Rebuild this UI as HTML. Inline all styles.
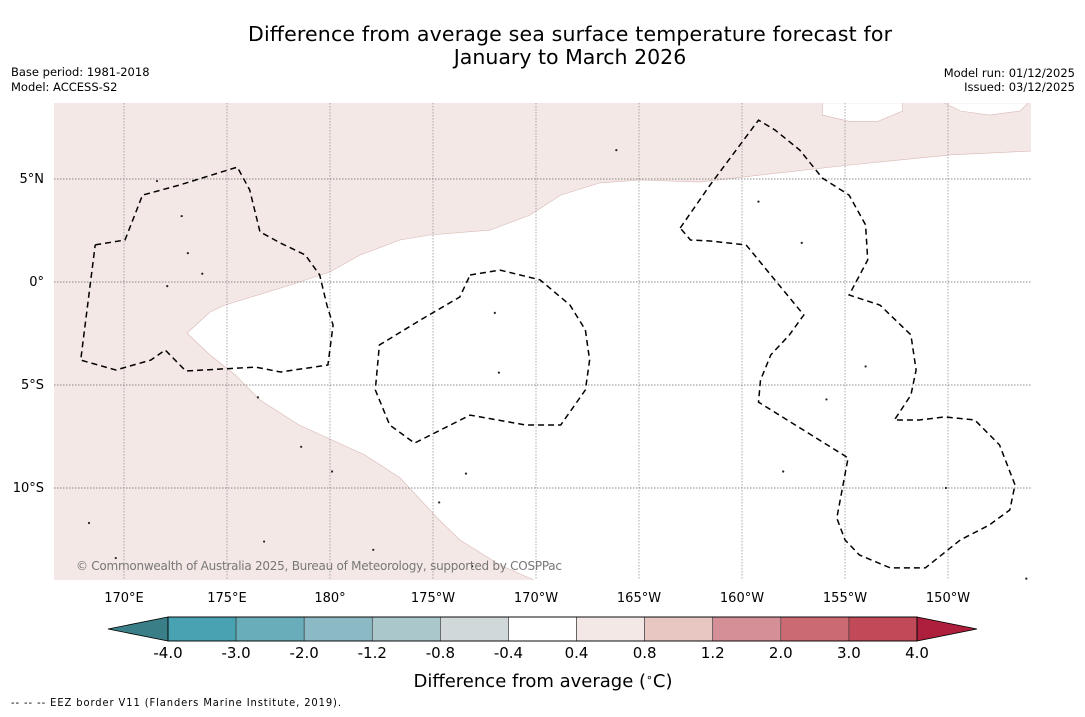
<!DOCTYPE html>
<html><head><meta charset="utf-8"><style>
body{margin:0;background:#fff;width:1085px;height:713px;overflow:hidden;font-family:"DejaVu Sans","Liberation Sans",sans-serif;}
</style></head><body>
<svg id="s" width="1085" height="713" xmlns="http://www.w3.org/2000/svg">
<text x="570" y="41" font-size="20.5" text-anchor="middle" textLength="644">Difference from average sea surface temperature forecast for</text>
<text x="570" y="64" font-size="20.5" text-anchor="middle">January to March 2026</text>
<text x="11" y="76" font-size="11.5">Base period: 1981-2018</text>
<text x="11" y="91" font-size="11.5">Model: ACCESS-S2</text>
<text x="1075" y="77" font-size="11.5" text-anchor="end">Model run: 01/12/2025</text>
<text x="1075" y="91" font-size="11.5" text-anchor="end">Issued: 03/12/2025</text>
<defs><clipPath id="mc"><rect x="54" y="103" width="977" height="477"/></clipPath></defs>
<g id="map" clip-path="url(#mc)">
<rect x="54" y="103" width="977" height="477" fill="#f4e8e6"/>
</g>
<g id="axes"></g>
<g id="cbar"></g>
<text x="543" y="687" font-size="18" text-anchor="middle">Difference from average (<tspan font-size="11" dy="-6">∘</tspan><tspan dy="6">C)</tspan></text>
<text x="11" y="706" font-size="11" textLength="330" font-family="DejaVu Sans Condensed,Liberation Sans Narrow,sans-serif">--  --  -- EEZ border V11 (Flanders Marine Institute, 2019).</text>
</svg>
<script>
const lonTicks=[170,175,180,185,190,195,200,205,210];
const lonTickLabels=["170°E","175°E","180°","175°W","170°W","165°W","160°W","155°W","150°W"];
const latTicks=[5,0,-5,-10];
const latTickLabels=["5°N","0°","5°S","10°S"];
const whiteRegion=[[173.06,-2.48],[174.17,-1.46],[174.9,-1.12],[178.06,-0.15],[180,0.49],[181.46,1.31],[183.4,2.04],[184.85,2.28],[187.77,2.52],[189.7,3.25],[191.2,4.22],[193.1,4.81],[195.05,4.95],[197.96,4.85],[200.87,5.19],[205.24,5.68],[210.1,6.17],[214.1,6.36],[214.1,-14.6],[190.2,-14.6],[188.25,-13.74],[186.3,-12.52],[185.3,-11.55],[183.4,-9.51],[181.7,-8.4],[178.5,-6.94],[176.6,-5.73],[175.4,-4.51],[174.17,-3.54]];
const whiteBlob1=[[203.9,8.7],[203.9,8.1],[205.2,7.8],[206.6,7.8],[207.8,8.3],[207.8,8.7]];
const whiteBlob2=[[209.8,8.7],[210.6,8.3],[212.0,8.1],[213.5,8.3],[213.9,8.7]];
const eez1=[[168.6,1.8],[170.05,2.04],[170.9,4.22],[172.7,4.71],[175.5,5.58],[176.1,4.47],[176.6,2.43],[177.6,1.89],[178.8,1.31],[179.5,0.34],[179.85,-1.12],[180.15,-2.09],[179.9,-4.03],[177.6,-4.37],[176.4,-4.13],[173.0,-4.32],[172.0,-3.3],[171.3,-3.79],[169.6,-4.27],[167.9,-3.79],[168.6,1.8]];
const eez2=[[186.8,0.34],[188.25,0.58],[190.2,0.1],[191.65,-1.12],[192.4,-2.33],[192.6,-3.79],[192.4,-5.24],[191.2,-6.94],[189.5,-6.94],[186.8,-6.46],[184.1,-7.82],[182.9,-6.94],[182.2,-5.24],[182.4,-3.06],[184.4,-1.84],[186.3,-0.73],[186.8,0.34]];
const eez3=[[197.0,2.62],[198.45,4.71],[200.8,7.86],[201.6,7.38],[202.8,6.41],[203.9,5.05],[205.2,4.22],[206.0,2.77],[206.1,1.07],[205.2,-0.63],[206.7,-1.12],[208.2,-2.57],[208.45,-4.27],[208.2,-5.49],[207.4,-6.7],[208.6,-6.7],[209.85,-6.55],[211.3,-6.7],[212.5,-7.91],[213.25,-9.85],[213.0,-11.07],[212.0,-11.8],[210.6,-12.52],[208.9,-13.88],[207.2,-13.88],[205.7,-13.25],[205.0,-12.52],[204.6,-11.46],[205.15,-8.54],[200.8,-5.83],[200.9,-4.76],[201.4,-3.54],[202.3,-2.57],[203.0,-1.6],[201.8,-0.15],[200.2,1.8],[198.45,1.99],[197.5,2.04],[197.0,2.62]];
const islands=[[171.6,4.9],[172.1,-0.2],[173.1,1.4],[173.8,0.4],[172.8,3.2],[176.5,-5.6],[178.6,-8.0],[180.1,-9.2],[185.3,-10.7],[186.6,-9.3],[188.0,-1.5],[188.2,-4.4],[193.9,6.4],[200.8,3.9],[202.9,1.9],[204.1,-5.7],[202.0,-9.2],[209.9,-10.0],[206.0,-4.1],[168.3,-11.7],[176.8,-12.6],[186.9,-13.8],[182.1,-13.0],[169.6,-13.4],[213.8,-14.4]];
const cbBounds=["-4.0","-3.0","-2.0","-1.2","-0.8","-0.4","0.4","0.8","1.2","2.0","3.0","4.0"];
const cbColors=["#48a2b1","#6aadba","#8bbac4","#aac8cc","#d0d8d9","#ffffff","#f4e8e6","#e8c6c1","#d58f97","#cc6a74","#c04a58"];
const X=lon=>124+(lon-170)*20.6, Y=lat=>282-lat*20.6;
const NS="http://www.w3.org/2000/svg";
function mk(t,a,p){const e=document.createElementNS(NS,t);for(const k in a)e.setAttribute(k,a[k]);p.appendChild(e);return e;}
const map=document.getElementById('map'),axes=document.getElementById('axes'),cb=document.getElementById('cbar');
const pts=a=>a.map(p=>X(p[0]).toFixed(1)+','+Y(p[1]).toFixed(1)).join(' ');
let w=mk('polygon',{points:pts(whiteRegion),fill:'#fff',stroke:'#d8b8b4','stroke-width':0.6},map);


[whiteBlob1,whiteBlob2].forEach(b=>{const e=mk('polygon',{points:pts(b),fill:'#fff',stroke:'#d8b8b4','stroke-width':0.6},map);

});
lonTicks.forEach((l,i)=>{const e=mk('line',{x1:X(l),x2:X(l),y1:103,y2:580,stroke:'#888','stroke-width':0.7,'stroke-dasharray':'1.5,1.5'},map);


const t=mk('text',{x:X(l),y:602,'font-size':13,'text-anchor':'middle'},axes);t.textContent=lonTickLabels[i];

});
latTicks.forEach((l,i)=>{const e=mk('line',{x1:54,x2:1031,y1:Y(l),y2:Y(l),stroke:'#666','stroke-width':0.7,'stroke-dasharray':'1.5,1.5'},map);


const t=mk('text',{x:44,y:Y(l)+4,'font-size':13,'text-anchor':'end'},axes);t.textContent=latTickLabels[i];

});
islands.forEach(p=>{const e=mk('circle',{cx:X(p[0]),cy:Y(p[1]),r:1.1,fill:'#222'},map);

});
[eez1,eez2,eez3].forEach(a=>{const e=mk('polyline',{points:pts(a),fill:'none',stroke:'#000','stroke-width':1.5,'stroke-dasharray':'6,4'},map);

});
const cp=mk('text',{x:76,y:570,'font-size':12,fill:'#777',textLength:486},map);cp.textContent='© Commonwealth of Australia 2025, Bureau of Meteorology, supported by COSPPac';


const c0=168,c1=917,cy0=617,cy1=641,n=cbColors.length,sw=(c1-c0)/n;
let la=mk('polygon',{points:`108,629 ${c0},${cy0} ${c0},${cy1}`,fill:'#3a7f88',stroke:'#000','stroke-width':0.8},cb);


let ra=mk('polygon',{points:`977,629 ${c1},${cy0} ${c1},${cy1}`,fill:'#ad1f3c',stroke:'#000','stroke-width':0.8},cb);


cbColors.forEach((c,i)=>{const r=mk('rect',{x:c0+i*sw,y:cy0,width:sw,height:cy1-cy0,fill:c,stroke:'#333','stroke-width':0.6},cb);

});
mk('rect',{x:c0,y:cy0,width:c1-c0,height:cy1-cy0,fill:'none',stroke:'#000','stroke-width':0.9},cb);
cbBounds.forEach((b,i)=>{const t=mk('text',{x:c0+i*sw,y:658,'font-size':15,'text-anchor':'middle'},cb);t.textContent=b;

});
</script>
</body></html>
